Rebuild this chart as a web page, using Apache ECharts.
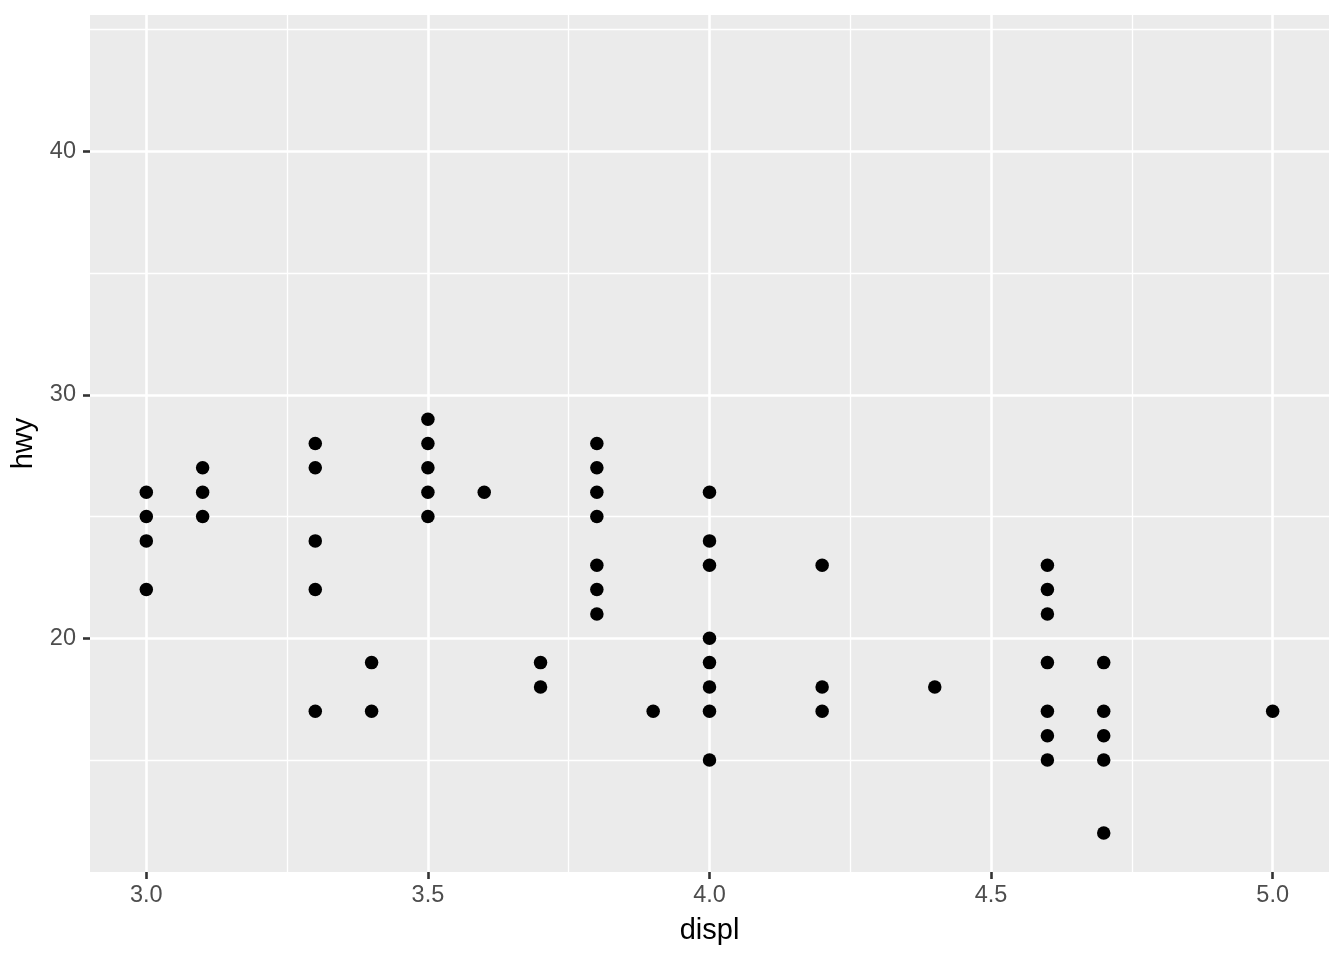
<!DOCTYPE html>
<html>
<head>
<meta charset="utf-8">
<script src="https://cdn.jsdelivr.net/npm/echarts@6/dist/echarts.min.js"></script>
<style>html,body{margin:0;padding:0;background:#fff}#c{width:1344px;height:960px}</style>
</head>
<body>
<div id="c"></div>
<script>
const displ = [3.0,3.0,3.0,3.0, 3.1,3.1,3.1, 3.3,3.3,3.3,3.3,3.3, 3.4,3.4, 3.5,3.5,3.5,3.5,3.5, 3.6, 3.7,3.7,
  3.8,3.8,3.8,3.8,3.8,3.8,3.8, 3.9, 4.0,4.0,4.0,4.0,4.0,4.0,4.0,4.0, 4.2,4.2,4.2, 4.4,
  4.6,4.6,4.6,4.6,4.6,4.6,4.6, 4.7,4.7,4.7,4.7,4.7, 5.0];
const hwy = [26,25,24,22, 27,26,25, 28,27,24,22,17, 19,17, 29,28,27,26,25, 26, 19,18,
  28,27,26,25,23,22,21, 17, 26,24,23,20,19,18,17,15, 23,18,17, 18,
  23,22,21,19,17,16,15, 19,17,16,15,12, 17];
const xTicks = [3.0, 3.5, 4.0, 4.5, 5.0];
const xMinor = [3.25, 3.75, 4.25, 4.75];
const yTicks = [20, 30, 40];
const yMinor = [15, 25, 35, 45];

const font = "'Liberation Sans', Arial, Helvetica, sans-serif";
const points = displ.map((d, i) => [d, hwy[i]]);

const gridLines = [];
xMinor.forEach(v => gridLines.push({xAxis: v, lineStyle: {width: 1.3}}));
yMinor.forEach(v => gridLines.push({yAxis: v, lineStyle: {width: 1.3}}));
xTicks.forEach(v => gridLines.push({xAxis: v, lineStyle: {width: 2.6}}));
yTicks.forEach(v => gridLines.push({yAxis: v, lineStyle: {width: 2.6}}));

const chart = echarts.init(document.getElementById('c'), null, {renderer: 'canvas'});
chart.setOption({
  animation: false,
  backgroundColor: '#ffffff',
  grid: {left: 90, right: 15, top: 15, bottom: 88, show: true, backgroundColor: '#EBEBEB', borderWidth: 0,
    containLabel: false, outerBoundsMode: 'none'},
  xAxis: {
    type: 'value', min: 2.9, max: 5.1,
    name: 'displ', nameLocation: 'middle', nameGap: 44,
    nameTextStyle: {color: '#000', fontSize: 29, fontFamily: font},
    axisLine: {show: false},
    splitLine: {show: false},
    axisTick: {show: true, length: 7, lineStyle: {color: '#333333', width: 2.6}, customValues: xTicks},
    axisLabel: {color: '#4D4D4D', fontSize: 23.5, fontFamily: font, margin: 12, customValues: xTicks,
      formatter: v => v.toFixed(1)}
  },
  yAxis: {
    type: 'value', min: 10.4, max: 45.6,
    name: 'hwy', nameLocation: 'middle', nameGap: 49,
    nameTextStyle: {color: '#000', fontSize: 29, fontFamily: font},
    axisLine: {show: false},
    splitLine: {show: false},
    axisTick: {show: true, length: 7, lineStyle: {color: '#333333', width: 2.6}, customValues: yTicks},
    axisLabel: {color: '#4D4D4D', fontSize: 23.5, fontFamily: font, margin: 14, customValues: yTicks}
  },
  series: [
    {
      type: 'scatter', data: [], z: 0, zlevel: 0, silent: true,
      markLine: {silent: true, symbol: ['none', 'none'], label: {show: false}, animation: false,
        lineStyle: {color: '#ffffff', type: 'solid'}, emphasis: {disabled: true}, data: gridLines}
    },
    {
      type: 'scatter', data: points, z: 20, zlevel: 1, symbol: 'circle', symbolSize: 13.5,
      itemStyle: {color: '#000000', opacity: 1}
    }
  ]
});
</script>
</body>
</html>
